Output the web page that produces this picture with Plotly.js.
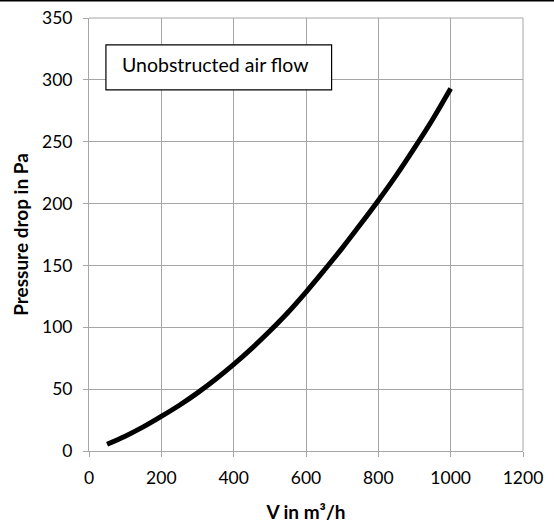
<!DOCTYPE html>
<html>
<head>
<meta charset="utf-8">
<script src="https://cdn.plot.ly/plotly-3.0.1.min.js"></script>
<style>html,body{margin:0;padding:0;background:#fff;}</style>
</head>
<body>
<div id="chart" style="width:554px;height:524px;"></div>
<script>
// Flow rate V in m³/h
const flowRate = [50, 100, 150, 200, 250, 300, 350, 400, 450, 500, 550, 600, 650, 700, 750, 800, 850, 900, 950, 1000];
// Pressure drop in Pa
const pressureDrop = [5.5, 12, 19.5, 28, 37, 47, 58, 70, 83, 97, 112, 128.5, 146, 164, 183, 202.5, 223, 245, 268, 293];
const xTicks = [0, 200, 400, 600, 800, 1000, 1200];
const yTicks = [0, 50, 100, 150, 200, 250, 300, 350];
const seriesLabel = "Unobstructed air flow";
const xTitle = "V in m³/h";
const yTitle = "Pressure drop in Pa";

const font = "Lato, 'Open Sans', sans-serif";
const gridColor = "#a6a6a6";

Plotly.newPlot("chart", [{
  x: flowRate,
  y: pressureDrop,
  type: "scatter",
  mode: "lines",
  line: {color: "#000000", width: 5, shape: "spline"},
  hoverinfo: "skip",
  showlegend: false
}], {
  width: 554,
  height: 524,
  margin: {l: 89, r: 31, t: 18, b: 73},
  paper_bgcolor: "#ffffff",
  plot_bgcolor: "#ffffff",
  font: {family: font, color: "#000000", size: 17},
  xaxis: {
    range: [0, 1200],
    tickvals: xTicks,
    ticktext: xTicks.map(String),
    showgrid: true,
    gridcolor: gridColor,
    gridwidth: 1,
    zeroline: false,
    showline: true,
    linecolor: gridColor,
    linewidth: 1,
    ticks: "outside",
    ticklen: 5,
    tickcolor: gridColor,
    ticklabelstandoff: 6,
    tickfont: {family: font, size: 17.5, color: "#000"},
    title: {text: xTitle, font: {family: font, size: 19, color: "#000", weight: "bold"}, standoff: 18}
  },
  yaxis: {
    range: [0, 350],
    tickvals: yTicks,
    ticktext: yTicks.map(String),
    showgrid: true,
    gridcolor: gridColor,
    gridwidth: 1,
    zeroline: false,
    showline: true,
    linecolor: gridColor,
    linewidth: 1,
    ticks: "outside",
    ticklen: 5,
    tickcolor: gridColor,
    ticklabelstandoff: 7,
    tickfont: {family: font, size: 17.5, color: "#000"},
    title: {text: yTitle, font: {family: font, size: 19, color: "#000", weight: "bold"}, standoff: 8}
  },
  shapes: [
    {type: "line", xref: "paper", yref: "paper", x0: 0, x1: 1, y0: 1, y1: 1, line: {color: gridColor, width: 1}},
    {type: "line", xref: "paper", yref: "paper", x0: 1, x1: 1, y0: 0, y1: 1, line: {color: gridColor, width: 1}},
    {type: "rect", xref: "paper", yref: "paper", x0: 0.039, x1: 0.559, y0: 0.834, y1: 0.938, line: {color: "#000", width: 1.2}, fillcolor: "#ffffff", layer: "above"},
    {type: "line", xref: "paper", yref: "paper", x0: -0.25, x1: 1.1, y0: 1.0405, y1: 1.0405, line: {color: "#000", width: 2}}
  ],
  annotations: [{
    xref: "paper", yref: "paper", x: 0.071, y: 0.893, xanchor: "left", yanchor: "middle",
    text: seriesLabel, showarrow: false, font: {family: font, size: 19.5, color: "#000"}
  }]
}, {displayModeBar: false, staticPlot: true});
</script>
</body>
</html>
